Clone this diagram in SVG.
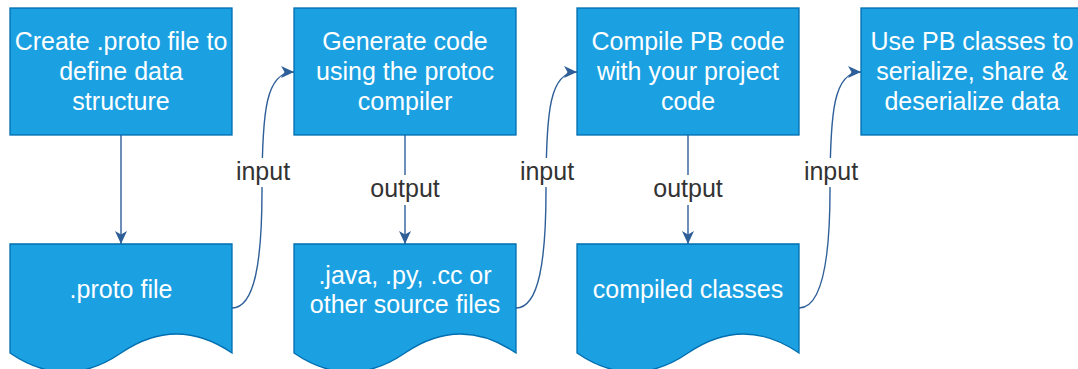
<svg xmlns="http://www.w3.org/2000/svg" width="1078" height="369" viewBox="0 0 1078 369">
<defs>
<style>
.box{fill:#1ba1e2;stroke:#006eaf;stroke-width:1.3}
.t{font-family:"Liberation Sans",Arial,sans-serif;font-size:25px;fill:#ffffff;text-anchor:middle}
.lbl{font-family:"Liberation Sans",Arial,sans-serif;font-size:25px;fill:#333333;text-anchor:middle}
.edge{fill:none;stroke:#2e5f98;stroke-width:1.4}
.bg{fill:#ffffff}
</style>
<marker id="ah" markerUnits="userSpaceOnUse" viewBox="0 0 13 13" markerWidth="13" markerHeight="13" refX="13" refY="6.5" orient="auto">
<path d="M0,0.5 L13,6.5 L0,12.5 L3.5,6.5 Z" fill="#2e5f98"/>
</marker>
</defs>
<rect width="1078" height="369" fill="#ffffff"/>

<g id="connectors">
<path class="edge" d="M121,135 V244" marker-end="url(#ah)"/>
<path class="edge" d="M405,135 V244" marker-end="url(#ah)"/>
<path class="edge" d="M688,135 V244" marker-end="url(#ah)"/>
<path class="edge" d="M232,308 C255,308 262,260 262,190 C262,110 266,72 294,72" marker-end="url(#ah)"/>
<path class="edge" d="M516,308 C539,308 546,260 546,190 C546,110 550,72 577,72" marker-end="url(#ah)"/>
<path class="edge" d="M799,308 C822,308 830,260 830,190 C830,110 834,72 861,72" marker-end="url(#ah)"/>
<rect class="bg" x="369" y="175" width="72" height="30"/>
<text class="lbl" x="405" y="197">output</text>
<rect class="bg" x="652" y="175" width="72" height="30"/>
<text class="lbl" x="688" y="197">output</text>
<rect class="bg" x="235" y="158" width="56" height="29"/>
<text class="lbl" x="263" y="180">input</text>
<rect class="bg" x="519" y="158" width="56" height="29"/>
<text class="lbl" x="547" y="180">input</text>
<rect class="bg" x="803" y="158" width="56" height="29"/>
<text class="lbl" x="831" y="180">input</text>
</g>

<g id="node-create-proto">
<rect class="box" x="10" y="8" width="222" height="127"/>
<text class="t" x="121" y="50">Create .proto file to</text>
<text class="t" x="121" y="80">define data</text>
<text class="t" x="121" y="110">structure</text>
</g>
<g id="node-generate">
<rect class="box" x="294" y="8" width="222" height="127"/>
<text class="t" x="405" y="50">Generate code</text>
<text class="t" x="405" y="80">using the protoc</text>
<text class="t" x="405" y="110">compiler</text>
</g>
<g id="node-compile">
<rect class="box" x="577" y="8" width="222" height="127"/>
<text class="t" x="688" y="50">Compile PB code</text>
<text class="t" x="688" y="80">with your project</text>
<text class="t" x="688" y="110">code</text>
</g>
<g id="node-use">
<rect class="box" x="861" y="8" width="222" height="127"/>
<text class="t" x="972" y="50">Use PB classes to</text>
<text class="t" x="972" y="80">serialize, share &amp;</text>
<text class="t" x="972" y="110">deserialize data</text>
</g>

<g id="doc-proto">
<path class="box" d="M10,244 H232 V353 Q176.5,315 121,353 Q65.5,391 10,353 Z"/>
<text class="t" x="121" y="298">.proto file</text>
</g>
<g id="doc-source">
<path class="box" d="M294,244 H516 V353 Q460.5,315 405,353 Q349.5,391 294,353 Z"/>
<text class="t" x="405" y="284">.java, .py, .cc or</text>
<text class="t" x="405" y="313">other source files</text>
</g>
<g id="doc-compiled">
<path class="box" d="M577,244 H799 V353 Q743.5,315 688,353 Q632.5,391 577,353 Z"/>
<text class="t" x="688" y="298">compiled classes</text>
</g>
</svg>
